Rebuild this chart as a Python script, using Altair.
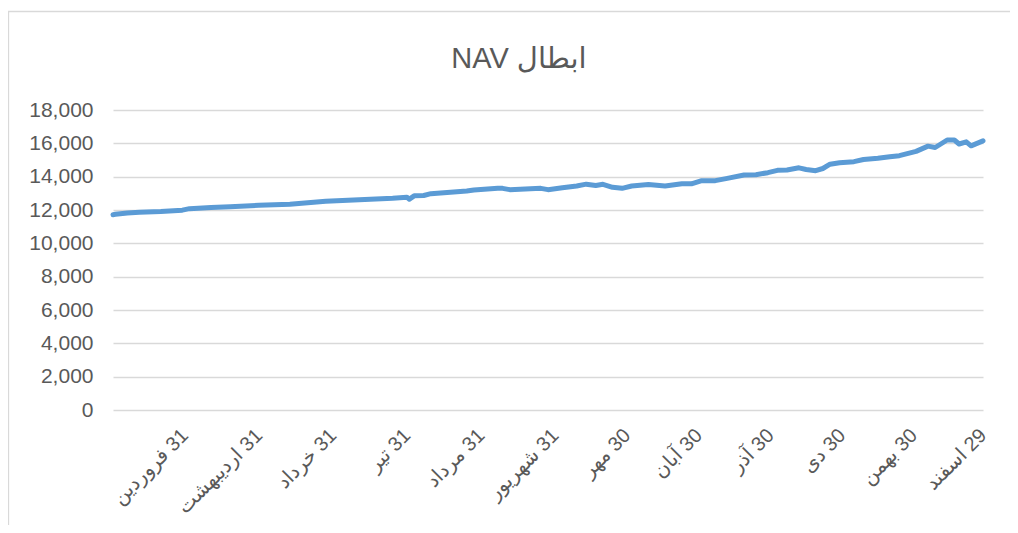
import altair as alt
import pandas as pd

# Day of the (Persian) year and NAV value
days = [1, 2, 7, 12, 21, 30, 33, 42, 50, 62,
        75, 90, 104, 118, 124, 125, 127, 131, 134, 149,
        152, 162, 164, 167, 180, 183, 189, 195, 199, 203,
        206, 210, 214, 218, 225, 232, 239, 243, 247, 253,
        258, 265, 270, 275, 279, 283, 288, 291, 295, 298,
        301, 305, 311, 315, 321, 326, 330, 337, 342, 345,
        350, 353, 355, 358, 360, 365]
navs = [11720, 11740, 11820, 11860, 11910, 11990, 12080, 12150, 12190, 12280,
        12350, 12520, 12620, 12700, 12760, 12650, 12850, 12870, 12980, 13140,
        13200, 13300, 13300, 13220, 13300, 13220, 13330, 13440, 13550, 13470,
        13540, 13360, 13300, 13440, 13530, 13440, 13580, 13570, 13750, 13760,
        13900, 14100, 14120, 14240, 14380, 14400, 14530, 14430, 14360, 14490,
        14750, 14840, 14900, 15030, 15110, 15200, 15260, 15520, 15830, 15750,
        16200, 16200, 15960, 16090, 15850, 16150]

tick_days = [31, 62, 93, 124, 155, 186, 216, 246, 276, 306, 336, 365]
tick_labels = ["31 فروردین", "31 اردیبهشت", "31 خرداد", "31 تیر", "31 مرداد",
               "31 شهریور", "30 مهر", "30 آبان", "30 آذر", "30 دی", "30 بهمن",
               "29 اسفند"]
y_ticks = [0, 2000, 4000, 6000, 8000, 10000, 12000, 14000, 16000, 18000]
title_text = "ابطال NAV"

RLE, PDF = "\u202b", "\u202c"

df = pd.DataFrame({"day": days, "nav": navs})

labels_js = "[" + ",".join("'" + RLE + t + PDF + "'" for t in tick_labels) + "]"
days_js = "[" + ",".join(str(d) for d in tick_days) + "]"
label_expr = f"{labels_js}[indexof({days_js}, datum.value)]"

FONT = "Liberation Sans, Arial, DejaVu Sans, sans-serif"
TXT = "#595959"

line = alt.Chart(df).mark_line(
    color="#5B9BD5", strokeWidth=5, strokeJoin="round", strokeCap="round"
).encode(
    x=alt.X("day:Q",
            scale=alt.Scale(domain=[1, 365], nice=False, zero=False),
            axis=alt.Axis(values=tick_days, labelExpr=label_expr, labelAngle=-45,
                          labelAlign="right", labelBaseline="middle",
                          labelPadding=22, grid=False, domain=False, ticks=False,
                          labelFont=FONT, labelFontSize=20, labelColor=TXT,
                          labelOverlap=False, title=None)),
    y=alt.Y("nav:Q",
            scale=alt.Scale(domain=[0, 18000], nice=False),
            axis=alt.Axis(values=y_ticks, format=",.0f", grid=True,
                          gridColor="#D9D9D9", gridWidth=1.3, domain=False,
                          ticks=False, labelPadding=20, labelFont=FONT,
                          labelFontSize=21, labelColor=TXT, title=None)),
)

one = pd.DataFrame({"t": [RLE + title_text + PDF]})

frame = alt.Chart(one).mark_rect(
    fillOpacity=0, stroke="#D9D9D9", strokeWidth=1.3
).encode(
    x=alt.value(-104.5), x2=alt.value(1100),
    y=alt.value(-98.5), y2=alt.value(700)
)

title = alt.Chart(one).mark_text(
    font=FONT, fontSize=29, color=TXT, align="center", baseline="alphabetic"
).encode(
    text="t:N", x=alt.value(406), y=alt.value(-42)
)

chart = alt.layer(frame, title, line).properties(
    width=870, height=300,
    padding={"left": 105, "top": 102, "right": 27, "bottom": 115},
    autosize=alt.AutoSizeParams(type="none"),
).configure_view(stroke=None)

chart.save("out.html", embed_options={"renderer": "svg", "actions": False})
